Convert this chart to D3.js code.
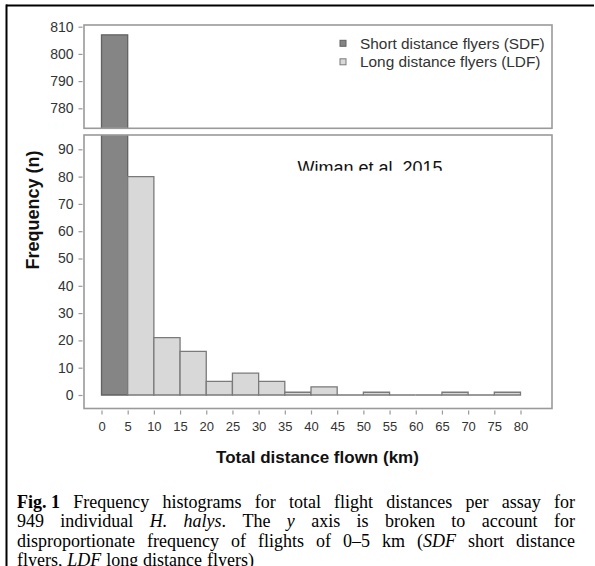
<!DOCTYPE html>
<html>
<head>
<meta charset="utf-8">
<script src="https://cdn.jsdelivr.net/npm/d3@7"></script>
<style>
  body { margin: 0; background: #fff; }
  svg { display: block; }
</style>
</head>
<body>
<svg id="chart" width="595" height="566"></svg>
<script>
// Histogram of total flight distance per assay (5 km bins)
const sdfStarts = [0];
const sdfCounts = [807];
const ldfStarts = [5, 10, 15, 20, 25, 30, 35, 40, 45, 50, 55, 60, 65, 70, 75];
const ldfCounts = [80, 21, 16, 5, 8, 5, 1, 3, 0, 1, 0, 0, 1, 0, 1];
const xTickValues = [0, 5, 10, 15, 20, 25, 30, 35, 40, 45, 50, 55, 60, 65, 70, 75, 80];
const upperTicks = [780, 790, 800, 810];
const lowerTicks = [0, 10, 20, 30, 40, 50, 60, 70, 80, 90];
const seriesNames = ["Short distance flyers (SDF)", "Long distance flyers (LDF)"];
const binWidth = 5;

const svg = d3.select("#chart");
const sans = "'Liberation Sans', Arial, sans-serif";
const serif = "'Liberation Serif', 'Times New Roman', serif";

const frameL = 84, frameR = 552;
const upper = { top: 25, bottom: 128.3 };
const lower = { top: 135, bottom: 408.5 };

const x = d3.scaleLinear().domain([0, 80]).range([101.5, 520.5]);
const yUp = d3.scaleLinear().domain([780, 810]).range([108.3, 26.7]);
const yLo = d3.scaleLinear().domain([0, 90]).range([395, 149.3]);

const styles = {
  sdf: { fill: "#858585", stroke: "#626262" },
  ldf: { fill: "#d8d8d8", stroke: "#7a7a7a" }
};

const bars = [
  ...sdfStarts.map((s, i) => ({ start: s, count: sdfCounts[i], kind: "sdf" })),
  ...ldfStarts.map((s, i) => ({ start: s, count: ldfCounts[i], kind: "ldf" }))
];

// outer figure rule lines
svg.append("line").attr("x1", 6).attr("x2", 594).attr("y1", 5.5).attr("y2", 5.5)
  .attr("stroke", "#000").attr("stroke-width", 2);
svg.append("line").attr("x1", 6.5).attr("x2", 6.5).attr("y1", 4.5).attr("y2", 566)
  .attr("stroke", "#000").attr("stroke-width", 2);

const defs = svg.append("defs");

function drawPanel(name, box, y, baseValue) {
  defs.append("clipPath").attr("id", "clip-" + name)
    .append("rect").attr("x", frameL).attr("y", box.top)
    .attr("width", frameR - frameL).attr("height", box.bottom - box.top);

  const g = svg.append("g").attr("clip-path", `url(#clip-${name})`);
  const base = y(baseValue);
  g.selectAll("path.bar").data(bars).join("path")
    .attr("class", "bar")
    .attr("d", d => {
      const x0 = x(d.start), x1 = x(d.start + binWidth), yt = y(d.count);
      return `M${x0},${base}L${x0},${yt}L${x1},${yt}L${x1},${base}Z`;
    })
    .attr("fill", d => styles[d.kind].fill)
    .attr("stroke", d => styles[d.kind].stroke)
    .attr("stroke-width", 1.3);

  svg.append("rect")
    .attr("x", frameL).attr("y", box.top)
    .attr("width", frameR - frameL).attr("height", box.bottom - box.top)
    .attr("fill", "none").attr("stroke", "#9a9a9a").attr("stroke-width", 1.6);
}

drawPanel("upper", upper, yUp, 0);
drawPanel("lower", lower, yLo, 0);

// y axes
function yAxis(scale, ticks) {
  const g = svg.append("g").attr("transform", `translate(${frameL - 1.5},0)`)
    .call(d3.axisLeft(scale).tickValues(ticks).tickSize(4).tickPadding(5));
  g.select(".domain").remove();
  g.selectAll(".tick line").attr("stroke", "#999").attr("stroke-width", 1.2);
  g.selectAll(".tick text").attr("fill", "#333").style("font-family", sans).style("font-size", "14px");
}
yAxis(yUp, upperTicks);
yAxis(yLo, lowerTicks);

// x axis
const xg = svg.append("g").attr("transform", `translate(0,${lower.bottom + 2})`)
  .call(d3.axisBottom(x).tickValues(xTickValues).tickSize(4).tickPadding(7));
xg.select(".domain").remove();
xg.selectAll(".tick line").attr("stroke", "#999").attr("stroke-width", 1.2);
xg.selectAll(".tick text").attr("fill", "#333").style("font-family", sans).style("font-size", "13px");

// axis titles
svg.append("text")
  .attr("x", 317.5).attr("y", 462.5)
  .attr("text-anchor", "middle")
  .style("font-family", sans).style("font-size", "17px").style("font-weight", "bold")
  .attr("fill", "#111")
  .text("Total distance flown (km)");

svg.append("text")
  .attr("transform", "translate(38.5,210) rotate(-90)")
  .attr("text-anchor", "middle")
  .style("font-family", sans).style("font-size", "18px").style("font-weight", "bold")
  .attr("fill", "#111")
  .text("Frequency (n)");

// legend
const legend = svg.append("g");
seriesNames.forEach((name, i) => {
  const kind = i === 0 ? "sdf" : "ldf";
  const cy = 43.3 + i * 18.5;
  legend.append("rect")
    .attr("x", 340).attr("y", cy - 3).attr("width", 6).attr("height", 6)
    .attr("fill", styles[kind].fill).attr("stroke", styles[kind].stroke).attr("stroke-width", 1);
  legend.append("text")
    .attr("x", 360).attr("y", cy + 5.5)
    .style("font-family", sans).style("font-size", "15.4px")
    .attr("fill", "#333")
    .text(name);
});

// source note, its lower edge trimmed
defs.append("clipPath").attr("id", "clip-note")
  .append("rect").attr("x", 280).attr("y", 150).attr("width", 200).attr("height", 20.8);
svg.append("text")
  .attr("x", 297.5).attr("y", 174)
  .attr("clip-path", "url(#clip-note)")
  .style("font-family", sans).style("font-size", "18px")
  .attr("fill", "#111")
  .text("Wiman et al. 2015");

// figure caption, justified
const captionLines = [
  { words: [["Fig. 1", "b"], ["Frequency"], ["histograms"], ["for"], ["total"], ["flight"], ["distances"], ["per"], ["assay"], ["for"]], justify: true },
  { words: [["949"], ["individual"], ["H.", "i"], ["halys", "i", "."], ["The"], ["y", "i"], ["axis"], ["is"], ["broken"], ["to"], ["account"], ["for"]], justify: true },
  { words: [["disproportionate"], ["frequency"], ["of"], ["flights"], ["of"], ["0–5"], ["km"], ["(", "", "", "SDF"], ["short"], ["distance"]], justify: true },
  { words: [["flyers,"], ["LDF", "i"], ["long"], ["distance"], ["flyers)"]], justify: false }
];
const capLeft = 17, capRight = 575, capTop = 508, capLead = 19.4;
const capSize = 18;

captionLines.forEach((line, li) => {
  const yb = capTop + li * capLead;
  const t = svg.append("text").attr("y", yb)
    .style("font-family", serif).style("font-size", capSize + "px").attr("fill", "#000");
  const spans = [];
  line.words.forEach(w => {
    const wt = t.append("tspan");
    if (w[0] === "(" && w[3]) {
      wt.append("tspan").text("(");
      wt.append("tspan").style("font-style", "italic").text(w[3]);
    } else {
      const main = wt.append("tspan").text(w[0]);
      if (w[1] === "b") main.style("font-weight", "bold");
      if (w[1] === "i") main.style("font-style", "italic");
      if (w[2]) wt.append("tspan").text(w[2]);
    }
    spans.push(wt);
  });
  // measure each word
  const widths = spans.map(s => {
    const tmp = svg.append("text").style("font-family", serif).style("font-size", capSize + "px");
    s.selectAll("tspan").each(function () {
      const src = d3.select(this);
      tmp.append("tspan").text(src.text())
        .style("font-weight", src.style("font-weight"))
        .style("font-style", src.style("font-style"));
    });
    const w = tmp.node().getComputedTextLength();
    tmp.remove();
    return w;
  });
  const total = d3.sum(widths);
  const gap = line.justify ? (capRight - capLeft - total) / (spans.length - 1) : capSize * 0.27;
  let cx = capLeft;
  spans.forEach((s, i) => {
    s.attr("x", cx);
    cx += widths[i] + gap;
  });
});
</script>
</body>
</html>
